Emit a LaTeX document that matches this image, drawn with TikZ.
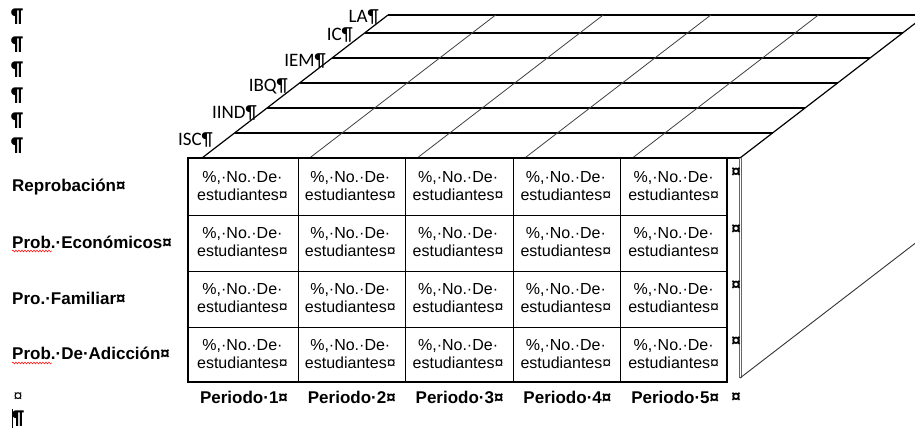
\documentclass[tikz,border=0pt]{standalone}
\usepackage{fontspec}
\setmainfont{Liberation Sans}
\newfontfamily\calfont{Carlito}
\usetikzlibrary{decorations.pathmorphing}
\begin{document}
\begin{tikzpicture}[x=1pt,y=-1pt,
  cell/.style={font=\fontsize{16}{18}\selectfont, align=center, inner sep=0pt},
  rowlab/.style={font=\bfseries\fontsize{17}{20}\selectfont, anchor=west, inner sep=0pt},
  perlab/.style={font=\bfseries\fontsize{17}{20}\selectfont, inner sep=0pt},
  toplab/.style={font=\calfont\fontsize{19}{22}\selectfont, anchor=east, inner sep=0pt},
  pil/.style={font=\calfont\bfseries\fontsize{20}{22}\selectfont, anchor=west, inner sep=0pt},
  cmark/.style={font=\bfseries\fontsize{17}{18}\selectfont, inner sep=0pt},
  hline/.style={line width=1.2pt, black},
  sline/.style={line width=0.8pt, black!75},
  tline/.style={line width=1pt, black},
  spell/.style={red, line width=0.5pt, decorate, decoration={snake, amplitude=0.9pt, segment length=3pt}}
]
\useasboundingbox (0,0) rectangle (915,429);
\clip (0,0) rectangle (915,429);

% ---- top face (perspective) ----
\foreach \yy in {15,33,58,83,108,133,158}{
  \pgfmathsetmacro{\xl}{202+(158-\yy)*1.3}
  \pgfmathsetmacro{\xr}{740+(158-\yy)*1.3}
  \draw[hline] (\xl,\yy) -- (\xr,\yy);
}
\foreach \k in {1,2,3,4}{
  \pgfmathsetmacro{\xb}{202+\k*107.6}
  \pgfmathsetmacro{\xt}{388+\k*107.6}
  \draw[sline] (\xb,158) -- (\xt,15);
}
\coordinate (tfl) at (202,158);
\coordinate (tfr) at (740,158);
\coordinate (tbl) at (388,15);
\coordinate (tbr) at (926,15);
\draw[line width=1.2pt] (tfl) -- (tbl);
\draw[line width=1.2pt] (tfr) -- (tbr);

% ---- side face ----
\coordinate (sbot) at (740,378);
\coordinate (sback) at (1000,178);
\draw[line width=0.6pt, black!60] ([xshift=-1pt]tfr) -- ([xshift=-1pt]sbot);
\draw[line width=0.6pt, black!60] ([xshift=1pt]tfr) -- ([xshift=1pt]sbot);
\draw[line width=0.9pt, black!80] (sbot) -- (sback);

% ---- labels of the top face ----
\node[toplab] (la) at (379,17) {LA¶};
\node[toplab] (ic) at (353,35) {IC¶};
\node[toplab] (iem) at (326,61) {IEM¶};
\node[toplab] (ibq) at (288,86) {IBQ¶};
\node[toplab] (iind) at (257,113) {IIND¶};
\node[toplab] (isc) at (213,140) {ISC¶};

% ---- left pilcrows ----
\foreach \yy [count=\i] in {17,45,70,96,121,146}{
  \node[pil] (p\i) at (11,\yy) {¶};
}

% ---- table ----
\foreach \r in {0,1,2,3}{
  \foreach \c in {0,1,2,3,4}{
    \pgfmathsetmacro{\cx}{188+\c*107.8+54.5}
    \pgfmathsetmacro{\cy}{158+\r*56+28}
    \node[cell] (c\r\c) at (\cx,\cy) {\%,·No.·De·\\estudiantes¤};
  }
}
\foreach \yy in {215,271,327}{ \draw[tline] (188,\yy) -- (727,\yy); }
\foreach \xx in {298,405,513,620}{ \draw[tline] (\xx,158) -- (\xx,382); }
\draw[line width=1.2pt] (188,158) rectangle (727,382);

% ---- row labels ----
\node[rowlab] (r0) at (12,187) {Reprobación¤};
\node[rowlab] (r1) at (12,242) {Prob.·Económicos¤};
\node[rowlab] (r2) at (12,298) {Pro.·Familiar¤};
\node[rowlab] (r3) at (12,353) {Prob.·De·Adicción¤};
\draw[spell] (12,251) -- (52,251);
\draw[spell] (12,363) -- (52,363);

% ---- period labels ----
\foreach \c in {0,1,2,3,4}{
  \pgfmathsetmacro{\cx}{188+\c*107.8+56}
  \pgfmathtruncatemacro{\n}{\c+1}
  \node[perlab] (per\c) at (\cx,397) {Periodo·\n¤};
}

% ---- end-of-cell / end-of-row marks ----
\node[cmark] (m0) at (736,173) {¤};
\node[cmark] (m1) at (736,230) {¤};
\node[cmark] (m2) at (736,286) {¤};
\node[cmark] (m3) at (736,342) {¤};
\node[cmark] (m4) at (736,398) {¤};
\node[cmark, font=\fontsize{16}{18}\selectfont] (m5) at (18,397) {¤};

% ---- cursor and last pilcrow ----
\node[pil] (plast) at (12,419) {¶};
\draw[line width=1.2pt] (12.5,409) -- (12.5,428);
\end{tikzpicture}
\end{document}
